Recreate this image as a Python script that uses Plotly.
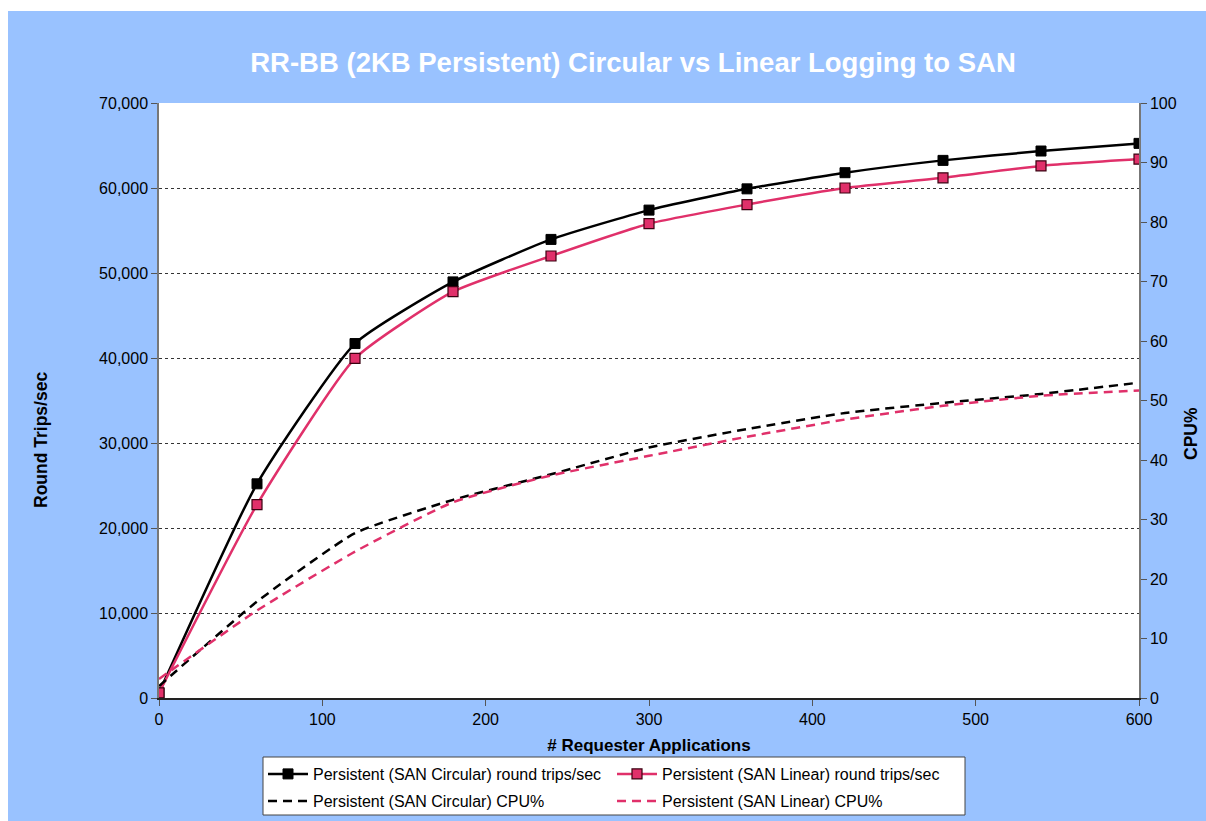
import plotly.graph_objects as go

x_apps = [0, 60, 120, 180, 240, 300, 360, 420, 480, 540, 600]
circ_rt = [600, 25200, 41700, 48950, 53950, 57400, 59900, 61800, 63250, 64350, 65250]
lin_rt = [600, 22750, 39950, 47800, 52000, 55800, 58050, 60000, 61200, 62600, 63400]
circ_cpu = [2.0, 16.2, 27.7, 33.3, 37.6, 42.1, 45.2, 47.9, 49.6, 51.1, 53.0]
lin_cpu = [3.2, 14.7, 24.6, 32.9, 37.4, 40.7, 43.9, 46.8, 49.1, 50.8, 51.7]

names = [
    "Persistent (SAN Circular) round trips/sec",
    "Persistent (SAN Linear) round trips/sec",
    "Persistent (SAN Circular) CPU%",
    "Persistent (SAN Linear) CPU%",
]

BLACK = "#000000"
PINK = "#E0306A"
BG = "#99C2FF"
FONT = "Liberation Sans, Arial, sans-serif"

# plot area in pixels
L, R, T, B = 159, 1139, 103, 698
W, H = 1206, 821
PW, PH = R - L, B - T


def px(xp):
    return (xp - L) / PW


def py(yp):
    return (B - yp) / PH


fig = go.Figure()
fig.add_trace(go.Scatter(
    x=x_apps, y=circ_rt, name=names[0], mode="lines+markers", legend="legend",
    line=dict(color=BLACK, width=2.5, shape="spline", smoothing=0.5),
    marker=dict(symbol="square", size=10, color=BLACK, line=dict(color=BLACK, width=1)),
))
fig.add_trace(go.Scatter(
    x=x_apps, y=lin_rt, name=names[1], mode="lines+markers", legend="legend",
    line=dict(color=PINK, width=2.5, shape="spline", smoothing=0.5),
    marker=dict(symbol="square", size=10, color=PINK, line=dict(color="#3a0010", width=1.2)),
))
fig.add_trace(go.Scatter(
    x=x_apps, y=circ_cpu, name=names[2], mode="lines", yaxis="y2", legend="legend2",
    line=dict(color=BLACK, width=2.5, dash="9px,6px", shape="spline", smoothing=0.5),
))
fig.add_trace(go.Scatter(
    x=x_apps, y=lin_cpu, name=names[3], mode="lines", yaxis="y2", legend="legend2",
    line=dict(color=PINK, width=2.5, dash="9px,6px", shape="spline", smoothing=0.5),
))

leg_common = dict(
    orientation="h", xref="container", yref="container",
    xanchor="left", yanchor="middle",
    bgcolor="rgba(0,0,0,0)", borderwidth=0,
    font=dict(size=16, family=FONT, color="black"),
    entrywidth=294, itemwidth=40,
)

fig.update_layout(
    width=W, height=H,
    margin=dict(l=L, r=W - R, t=T, b=H - B),
    paper_bgcolor=BG,
    plot_bgcolor="white",
    font=dict(family=FONT, size=16, color="black"),
    showlegend=True,
    title=dict(
        text="<b>RR-BB (2KB Persistent) Circular vs Linear Logging to SAN</b>",
        font=dict(family=FONT, size=27.5, color="white"),
        x=633 / W, xanchor="center", y=1 - 62 / H, yanchor="middle",
    ),
    xaxis=dict(
        range=[0, 600], tickvals=[0, 100, 200, 300, 400, 500, 600],
        ticks="outside", ticklen=6, tickcolor="#555555",
        showline=True, linecolor="#222222", linewidth=1.5,
        showgrid=False, zeroline=False, automargin=False,
        tickfont=dict(size=16),
        title=dict(text="<b># Requester Applications</b>", font=dict(size=17), standoff=12),
    ),
    yaxis=dict(
        range=[0, 70000], dtick=10000, tickformat=",d",
        ticks="outside", ticklen=6, tickcolor="#555555",
        showline=True, linecolor="#777777", linewidth=1.5,
        showgrid=True, gridcolor="#333333", griddash="dot", gridwidth=1,
        zeroline=False, automargin=False,
        tickfont=dict(size=16),
    ),
    yaxis2=dict(
        range=[0, 100], dtick=10, overlaying="y", side="right",
        ticks="outside", ticklen=6, tickcolor="#555555",
        showline=True, linecolor="#777777", linewidth=1.5,
        showgrid=False, zeroline=False, automargin=False,
        tickfont=dict(size=16),
    ),
    legend=dict(x=263 / W, y=1 - 774 / H, **leg_common),
    legend2=dict(x=263 / W, y=1 - 801 / H, **leg_common),
    annotations=[
        dict(
            text="<b>Round Trips/sec</b>", textangle=-90, showarrow=False,
            xref="paper", yref="paper", x=px(41), y=py(440),
            xanchor="center", yanchor="middle", font=dict(size=17.5),
        ),
        dict(
            text="<b>CPU%</b>", textangle=-90, showarrow=False,
            xref="paper", yref="paper", x=px(1191), y=py(434),
            xanchor="center", yanchor="middle", font=dict(size=17.5),
        ),
    ],
    shapes=[
        # white page border strips (left and top)
        dict(
            type="rect", xref="paper", yref="paper", layer="below",
            x0=px(-50), x1=px(8), y0=py(H + 50), y1=py(-50),
            fillcolor="white", line=dict(width=0),
        ),
        dict(
            type="rect", xref="paper", yref="paper", layer="below",
            x0=px(-50), x1=px(W + 50), y0=py(11), y1=py(-50),
            fillcolor="white", line=dict(width=0),
        ),
        # legend box
        dict(
            type="rect", xref="paper", yref="paper", layer="below",
            x0=px(263), x1=px(965), y0=py(815), y1=py(757),
            fillcolor="white", line=dict(color="#444444", width=1),
        ),
    ],
)

fig.write_html("out.html")
